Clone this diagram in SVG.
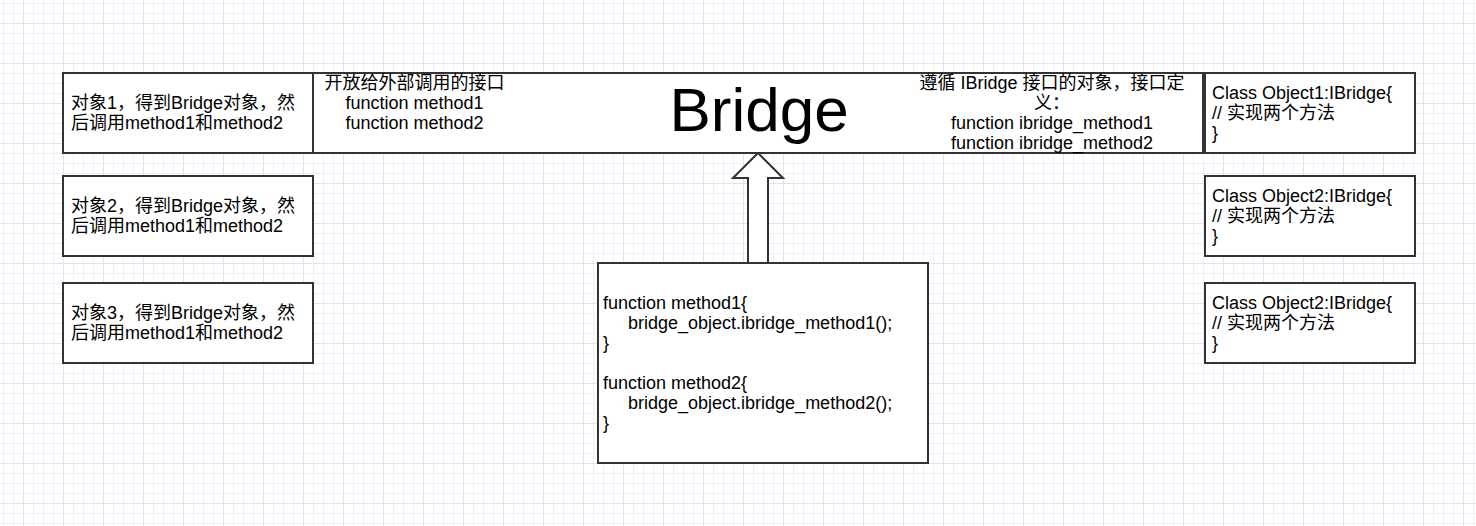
<svg xmlns="http://www.w3.org/2000/svg" width="1476" height="526" viewBox="0 0 1476 526">
<defs>
<pattern id="grid" x="3" y="3" width="40" height="40" patternUnits="userSpaceOnUse">
<rect width="40" height="40" fill="#ffffff"/>
<path d="M0.5 0V40M10.5 0V40M30.5 0V40M0 0.5H40M0 10.5H40M0 30.5H40" stroke="#f0eef9" stroke-width="1" fill="none"/>
<path d="M20.5 0V40M0 20.5H40" stroke="#e5e1f3" stroke-width="1" fill="none"/>
</pattern>
<style>
.box{fill:#ffffff;stroke:#333333;stroke-width:2}
.t{font-family:"Liberation Sans","Noto Sans CJK SC",sans-serif;font-size:18px;fill:#000000}
.c{text-anchor:middle}
.big{font-family:"Liberation Sans","Noto Sans CJK SC",sans-serif;font-size:62px;fill:#000000;text-anchor:middle}
</style>
</defs>
<rect width="1476" height="526" fill="url(#grid)"/>

<g id="connectors">
<polygon class="box" points="758,153 783,178 768,178 768,263 748,263 748,178 733,178"/>
</g>

<g id="bridge">
<rect class="box" x="313" y="73" width="890" height="80"/>
<text class="big" x="759" y="131">Bridge</text>
<text class="t c" x="414.5" y="88.5">开放给外部调用的接口</text>
<text class="t c" x="414.5" y="108.5">function method1</text>
<text class="t c" x="414.5" y="128.5">function method2</text>
<text class="t c" x="1052" y="88.5">遵循 IBridge 接口的对象，接口定</text>
<text class="t c" x="1052" y="108.5">义：</text>
<text class="t c" x="1052" y="128.5">function ibridge_method1</text>
<text class="t c" x="1052" y="148.5">function ibridge_method2</text>
</g>

<g id="client1">
<rect class="box" x="63" y="73" width="250" height="80"/>
<text class="t" x="71" y="108.5">对象1，得到Bridge对象，然</text>
<text class="t" x="71" y="128.5">后调用method1和method2</text>
</g>
<g id="client2">
<rect class="box" x="63" y="176" width="250" height="80"/>
<text class="t" x="71" y="211.5">对象2，得到Bridge对象，然</text>
<text class="t" x="71" y="231.5">后调用method1和method2</text>
</g>
<g id="client3">
<rect class="box" x="63" y="283" width="250" height="80"/>
<text class="t" x="71" y="318.5">对象3，得到Bridge对象，然</text>
<text class="t" x="71" y="338.5">后调用method1和method2</text>
</g>

<g id="object1">
<rect class="box" x="1205" y="73" width="210" height="80"/>
<text class="t" x="1212" y="98.5">Class Object1:IBridge{</text>
<text class="t" x="1212" y="118.5">// 实现两个方法</text>
<text class="t" x="1212" y="138.5">}</text>
</g>
<g id="object2">
<rect class="box" x="1205" y="176" width="210" height="80"/>
<text class="t" x="1212" y="201.5">Class Object2:IBridge{</text>
<text class="t" x="1212" y="221.5">// 实现两个方法</text>
<text class="t" x="1212" y="241.5">}</text>
</g>
<g id="object3">
<rect class="box" x="1205" y="283" width="210" height="80"/>
<text class="t" x="1212" y="308.5">Class Object2:IBridge{</text>
<text class="t" x="1212" y="328.5">// 实现两个方法</text>
<text class="t" x="1212" y="348.5">}</text>
</g>

<g id="implementation">
<rect class="box" x="598" y="263" width="330" height="200"/>
<text class="t" x="603" y="308.5">function method1{</text>
<text class="t" x="628" y="328.5">bridge_object.ibridge_method1();</text>
<text class="t" x="603" y="348.5">}</text>
<text class="t" x="603" y="388.5">function method2{</text>
<text class="t" x="628" y="408.5">bridge_object.ibridge_method2();</text>
<text class="t" x="603" y="428.5">}</text>
</g>
</svg>
